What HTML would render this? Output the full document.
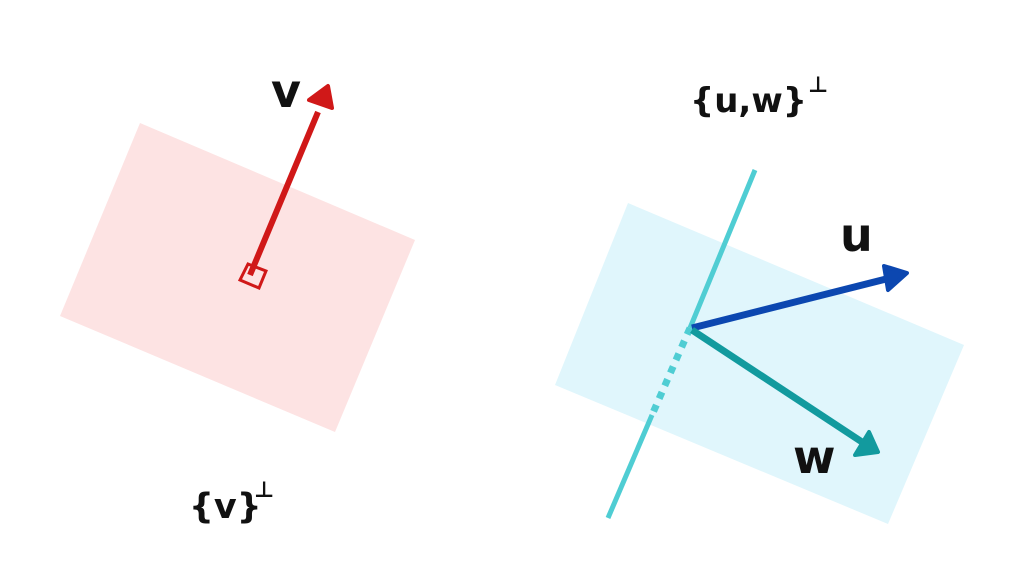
<!DOCTYPE html>
<html><head><style>
html,body{margin:0;padding:0;background:#fff;}
svg{display:block;}
text{font-family:"DejaVu Sans","Liberation Sans",sans-serif;font-weight:bold;fill:#111;}
</style></head><body>
<svg width="1024" height="585" viewBox="0 0 1024 585">
<polygon points="140,123 415,240 335,432 60,316" fill="#fde3e3"/>
<polygon points="628,203 964,345 888,524 555,385" fill="#e0f6fc"/>
<line x1="250" y1="275" x2="318" y2="112" stroke="#d01818" stroke-width="6"/>
<polygon points="328,86 332,108 309,100" fill="#d01818" stroke="#d01818" stroke-width="4" stroke-linejoin="round"/>
<polygon points="248,264 266,271 259,288 240,280" fill="none" stroke="#d01818" stroke-width="3"/>
<line x1="755" y1="170" x2="690" y2="328" stroke="#4fcdd3" stroke-width="5"/>
<line x1="690" y1="328" x2="652" y2="415" stroke="#4fcdd3" stroke-width="7" stroke-dasharray="7,7"/>
<line x1="652" y1="415" x2="608" y2="518" stroke="#4fcdd3" stroke-width="5"/>
<line x1="692" y1="328" x2="890" y2="278" stroke="#0c47b0" stroke-width="7"/>
<polygon points="907,273 888,290 884,266" fill="#0c47b0" stroke="#0c47b0" stroke-width="4" stroke-linejoin="round"/>
<line x1="692" y1="330" x2="862" y2="442" stroke="#129a9e" stroke-width="7"/>
<polygon points="878,452 855,455 869,432" fill="#129a9e" stroke="#129a9e" stroke-width="4" stroke-linejoin="round"/>
<text x="271" y="107" font-size="46">v</text>
<text x="189" y="518" font-size="35">{v}</text>
<text x="254" y="497" font-size="22">⊥</text>
<text x="690" y="112" font-size="34">{u,w}</text>
<text x="808" y="92" font-size="22">⊥</text>
<text x="840" y="251" font-size="46">u</text>
<text x="793" y="473" font-size="46">w</text>
</svg>
</body></html>
